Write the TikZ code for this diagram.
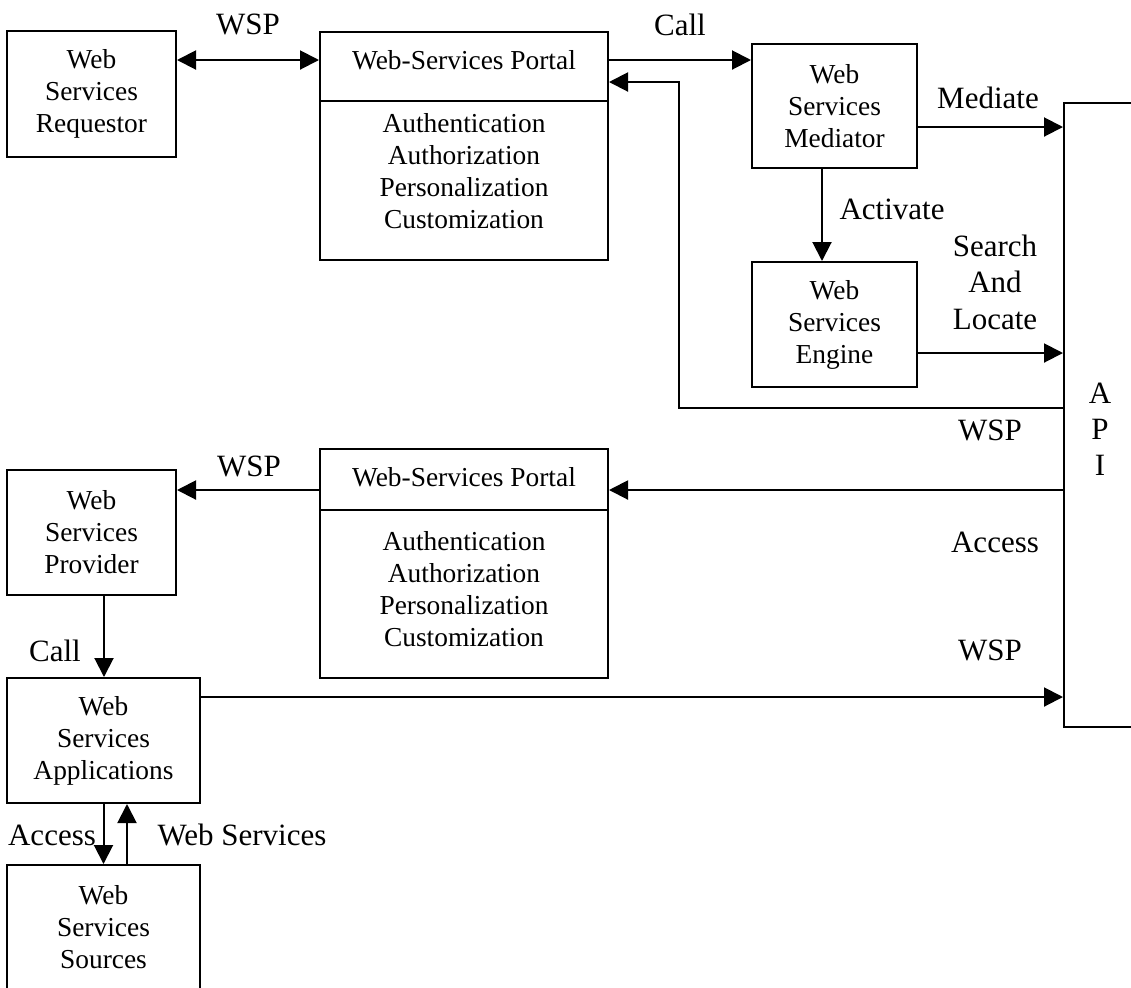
\documentclass[tikz,border=0pt]{standalone}
\usepackage{fontspec}
\setmainfont{Liberation Serif}
\usetikzlibrary{arrows.meta}
\tikzset{
  box/.style={draw, line width=1pt, inner sep=0pt, align=center, font=\fontsize{13.7}{16}\selectfont},
  boxtxt/.style={inner sep=0pt, align=center, font=\fontsize{13.7}{16}\selectfont},
  lbl/.style={inner sep=0pt, align=center, font=\fontsize{15.5}{18.25}\selectfont},
  arr/.style={line width=1pt, -{Triangle[length=9.5pt,width=9.5pt]}},
  darr/.style={line width=1pt, {Triangle[length=9.5pt,width=9.5pt]}-{Triangle[length=9.5pt,width=9.5pt]}}
}
\begin{document}
\begin{tikzpicture}[x=0.5pt, y=-0.5pt]
    \useasboundingbox (0,0) rectangle (1131,987) ;
    \clip (0,0) rectangle (1131,987) ;
    \node[box, minimum width=84.5pt, minimum height=63pt] (req) at (91.5,94) {Web\\Services\\Requestor} ;
    \node[box, minimum width=144pt, minimum height=114pt] (portA) at (464,145.5) {} ;
    \node[boxtxt] (portAt) at (464,60) {Web-Services Portal} ;
    \node[boxtxt] (portAl) at (464,171.5) {Authentication\\Authorization\\Personalization\\Customization} ;
    \draw[line width=1pt] ([yshift=-35pt]portA.north west) -- ([yshift=-35pt]portA.north east) ;
    \node[box, minimum width=82.5pt, minimum height=62pt] (med) at (834.5,106) {Web\\Services\\Mediator} ;
    \node[box, minimum width=82.5pt, minimum height=62.5pt] (eng) at (834.5,324.5) {Web\\Services\\Engine} ;
    \node[box, minimum width=68pt, minimum height=312pt] (api) at (1132,415) {} ;
    \node[lbl, font=\fontsize{15.5}{18}\selectfont] (apit) at (1100,429) {A\\P\\I} ;
    \node[box, minimum width=144pt, minimum height=114.5pt] (portB) at (464,563.5) {} ;
    \node[boxtxt] (portBt) at (464,477) {Web-Services Portal} ;
    \node[boxtxt] (portBl) at (464,589.5) {Authentication\\Authorization\\Personalization\\Customization} ;
    \draw[line width=1pt] ([yshift=-31pt]portB.north west) -- ([yshift=-31pt]portB.north east) ;
    \node[box, minimum width=84.5pt, minimum height=62.5pt] (prov) at (91.5,532.5) {Web\\Services\\Provider} ;
    \node[box, minimum width=96.5pt, minimum height=62.5pt] (apps) at (103.5,740.5) {Web\\Services\\Applications} ;
    \node[box, minimum width=96.5pt, minimum height=62.5pt] (src) at (103.5,927.5) {Web\\Services\\Sources} ;
    \coordinate (retA) at (679,408) ;
    \coordinate (retB) at (679,82) ;
    \draw[darr] (req.east |- portAt) -- (portA.west |- portAt) node[lbl, midway, yshift=18pt] (wspA) {WSP} ;
    \draw[arr] (portA.east |- portAt) -- (med.west |- portAt) node[lbl, midway, yshift=17.5pt] (callA) {Call} ;
    \draw[arr] (api.west |- retA) -- (retA) -- (retB) -- (retB -| portA.east) ;
    \draw[arr] ([yshift=-10.5pt]med.east) -- ([yshift=-10.5pt]med.east -| api.west) ;
    \draw[arr] ([xshift=-6.25pt]med.south) -- ([xshift=-6.25pt]eng.north) ;
    \draw[arr] ([yshift=-14.25pt]eng.east) -- ([yshift=-14.25pt]eng.east -| api.west) ;
    \draw[arr] ([yshift=-21pt]portB.north east -| api.west) -- ([yshift=-21pt]portB.north east) ;
    \draw[arr] ([yshift=-21pt]portB.north west) -- ([yshift=-21pt]portB.north west -| prov.east) ;
    \draw[arr] ([xshift=6.25pt]prov.south) -- ([xshift=6.25pt]prov.south |- apps.north) ;
    \draw[arr] ([yshift=-10pt]apps.north east) -- ([yshift=-10pt]apps.north east -| api.west) ;
    \draw[arr] (apps.south) -- (src.north) ;
    \draw[arr] ([xshift=11.75pt]src.north) -- ([xshift=11.75pt]apps.south) ;
    \node[lbl] (medlbl) at (988,98) {Mediate} ;
    \node[lbl] (actlbl) at (892,209) {Activate} ;
    \node[lbl] (srchlbl) at (995,282) {Search\\And\\Locate} ;
    \node[lbl] (wspR) at (990,430) {WSP} ;
    \node[lbl] (accR) at (995,542) {Access} ;
    \node[lbl] (wspR2) at (990,650) {WSP} ;
    \node[lbl] (wspB) at (249,466) {WSP} ;
    \node[lbl] (callB) at (55,651) {Call} ;
    \node[lbl] (accB) at (52,835) {Access} ;
    \node[lbl] (wslbl) at (242,835) {Web Services} ;
\end{tikzpicture}
\end{document}
